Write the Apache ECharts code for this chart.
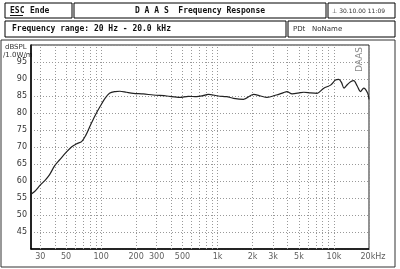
<!DOCTYPE html>
<html><head><meta charset="utf-8">
<script src="https://cdn.jsdelivr.net/npm/echarts@6/dist/echarts.min.js"></script>
<style>html,body{margin:0;padding:0;background:#fff}#c{width:400px;height:269px}</style>
</head><body><div id="c"></div>
<script>
const freq = [25,27,30,33,36,40,44,50,56,62,68,74,80,88,98,108,118,132,145,165,189,230,281,367,475,560,662,750,832,1015,1200,1373,1673,2040,2350,2655,3200,3687,3950,4365,5164,5500,6300,7170,8180,9350,10300,11000,11600,12200,13000,13900,14800,15800,16900,18000,19500,20000];
const spl = [56.1,57.0,58.8,60.2,61.8,64.5,66.2,68.4,70.1,71.0,71.6,73.5,76.0,79.0,81.9,84.3,85.8,86.3,86.4,86.1,85.8,85.6,85.3,85.0,84.6,84.9,84.8,85.1,85.5,85.0,84.8,84.3,84.0,85.5,85.0,84.6,85.3,86.0,86.3,85.6,86.0,86.1,85.9,85.8,87.3,88.2,89.7,89.9,89.0,87.3,88.3,89.2,89.5,88.0,86.3,87.3,85.8,84.0];
const xTickFreqs = [30,50,100,200,300,500,1000,2000,3000,5000,10000,20000];
const xTickLabels = ['30','50','100','200','300','500','1k','2k','3k','5k','10k','20kHz'];
const gridFreqs = [30,40,50,60,70,80,90,100,200,300,400,500,600,700,800,900,1000,2000,3000,4000,5000,6000,7000,8000,9000,10000,20000];
const yMin = 40, yMax = 100, yStep = 5;

const chart = echarts.init(document.getElementById('c'), null, {renderer:'canvas'});
const mono = '"DejaVu Sans Mono", monospace';
const sans = '"DejaVu Sans", sans-serif';
function box(x,y,w,h){return {type:'rect',shape:{x:x,y:y,width:w,height:h},style:{fill:'#fff',stroke:'#000',lineWidth:1}};}
function txt(x,y,t,opt){return Object.assign({type:'text',x:x,y:y,style:Object.assign({text:t,fill:'#111',font:'bold 8px '+mono,textVerticalAlign:'middle'},opt||{})});}
chart.setOption({
  animation:false,
  grid:{left:31,top:45,right:31,bottom:20,show:true,borderColor:'#222',borderWidth:1},
  xAxis:{type:'log',logBase:10,min:25,max:20000,
    axisLine:{show:true,lineStyle:{color:'#000',width:1.5}},axisTick:{show:false},axisLabel:{show:false},splitLine:{show:false}},
  yAxis:{type:'value',min:yMin,max:yMax,interval:yStep,
    axisLine:{show:true,lineStyle:{color:'#000',width:1.5}},axisTick:{show:false},
    axisLabel:{margin:4,color:'#333',fontSize:8,fontFamily:sans,formatter:v=>(v===yMin||v===yMax)?'':String(v)},
    splitLine:{show:true,lineStyle:{color:'#999',type:[1,2],width:1}}},
  series:[
    {type:'line',data:[],silent:true,
      markLine:{silent:true,symbol:'none',label:{show:false},
        lineStyle:{color:'#999',type:[1,2],width:1},
        data:gridFreqs.map(f=>({xAxis:f}))}},
    {type:'line',data:freq.map((f,i)=>[f,spl[i]]),showSymbol:false,smooth:0.3,
      lineStyle:{color:'#222',width:1.2},z:5},
    {type:'scatter',data:xTickFreqs.map((f,i)=>({value:[f,yMin],label:{formatter:xTickLabels[i],offset:i===xTickFreqs.length-1?[4,0]:[0,0]}})),
      symbolSize:0,clip:false,silent:true,
      label:{show:true,position:'bottom',distance:4,color:'#333',fontSize:8,fontFamily:sans}}
  ],
  graphic:[
    {type:'rect',shape:{x:1,y:40,width:394,height:227},style:{fill:'none',stroke:'#333',lineWidth:1},z:-1},
    box(5,3,67,15), box(74,3,252,15), box(328,3,67,15),
    box(5,21,281,16), box(288,21,107,16),
    txt(10,11,'ESC',{}),
    {type:'line',shape:{x1:10,y1:15.5,x2:23,y2:15.5},style:{stroke:'#111',lineWidth:1}},
    txt(30,11,'Ende',{}),
    txt(200,11,'D A A S  Frequency Response',{textAlign:'center'}),
    txt(332,11,'⊥ 30.10.00 11:09',{font:'6px '+sans,fill:'#333'}),
    txt(12,29,'Frequency range: 20 Hz - 20.0 kHz',{}),
    txt(293,29,'PDt   NoName',{font:'7px '+sans,fill:'#333'}),
    txt(5,47,'dBSPL',{font:'7px '+sans,fill:'#333'}),
    txt(3,55,'/1.0W/m',{font:'7px '+sans,fill:'#333'}),
    {type:'text',x:360,y:72,rotation:Math.PI/2,style:{text:'DAAS',fill:'#888',font:'9px '+sans,textVerticalAlign:'middle'},z:10}
  ]
});
</script></body></html>
